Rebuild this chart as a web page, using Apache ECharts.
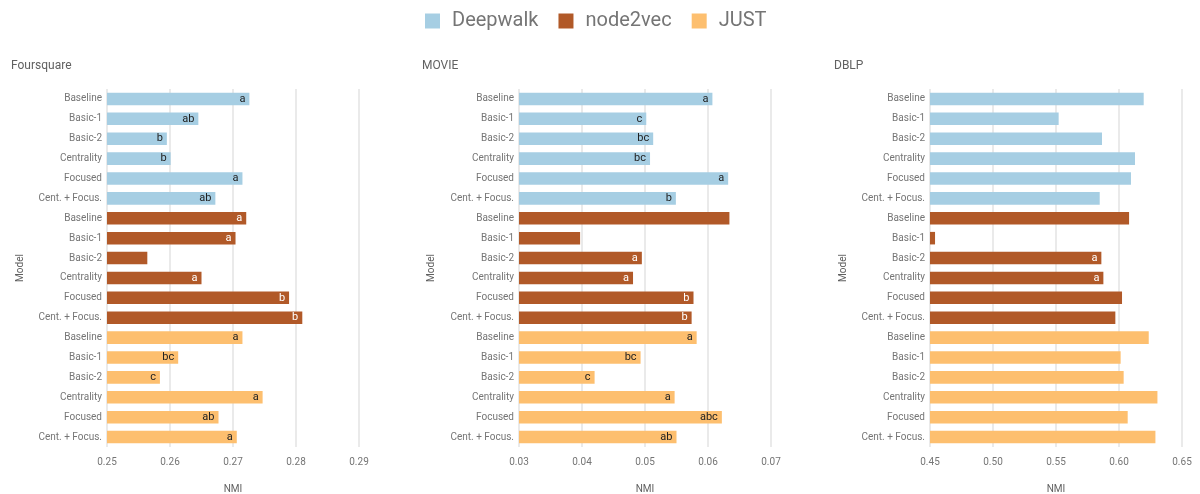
<!DOCTYPE html>
<html>
<head>
<meta charset="utf-8">
<script src="https://cdn.jsdelivr.net/npm/echarts@6/dist/echarts.min.js"></script>
<style>
  html, body { margin: 0; padding: 0; background: #fff; }
  #chart { width: 1200px; height: 494px; }
</style>
</head>
<body>
<div id="chart"></div>
<script>
// Model variants, repeated once per embedding method (top to bottom)
const models = ['Baseline', 'Basic-1', 'Basic-2', 'Centrality', 'Focused', 'Cent. + Focus.'];
const methods = ['Deepwalk', 'node2vec', 'JUST'];
const datasets = ['Foursquare', 'MOVIE', 'DBLP'];

// NMI per dataset and method
const foursquareDeepwalk = [0.2726, 0.2645, 0.2595, 0.2601, 0.2715, 0.2672];
const foursquareNode2vec = [0.2721, 0.2704, 0.2564, 0.2650, 0.2789, 0.2810];
const foursquareJust     = [0.2715, 0.2613, 0.2584, 0.2747, 0.2677, 0.2706];

const movieDeepwalk = [0.0607, 0.0502, 0.0513, 0.0508, 0.0632, 0.0549];
const movieNode2vec = [0.0634, 0.0397, 0.0495, 0.0481, 0.0577, 0.0574];
const movieJust     = [0.0582, 0.0493, 0.0420, 0.0547, 0.0622, 0.0550];

const dblpDeepwalk = [0.6196, 0.5521, 0.5865, 0.6127, 0.6095, 0.5847];
const dblpNode2vec = [0.6080, 0.4540, 0.5860, 0.5876, 0.6024, 0.5971];
const dblpJust     = [0.6236, 0.6013, 0.6037, 0.6305, 0.6069, 0.6289];

// Significance-group letters shown at the bar ends
const foursquareDeepwalkLetters = ['a', 'ab', 'b', 'b', 'a', 'ab'];
const foursquareNode2vecLetters = ['a', 'a', '', 'a', 'b', 'b'];
const foursquareJustLetters     = ['a', 'bc', 'c', 'a', 'ab', 'a'];

const movieDeepwalkLetters = ['a', 'c', 'bc', 'bc', 'a', 'b'];
const movieNode2vecLetters = ['', '', 'a', 'a', 'b', 'b'];
const movieJustLetters     = ['a', 'bc', 'c', 'a', 'abc', 'ab'];

const dblpDeepwalkLetters = ['', '', '', '', '', ''];
const dblpNode2vecLetters = ['', '', 'a', 'a', '', ''];
const dblpJustLetters     = ['', '', '', '', '', ''];

// Axis ranges per dataset
const xMins = [0.25, 0.03, 0.45];
const xMaxs = [0.29, 0.07, 0.65];
const xSteps = [0.01, 0.01, 0.05];

const panelValues = [
  [foursquareDeepwalk, foursquareNode2vec, foursquareJust],
  [movieDeepwalk, movieNode2vec, movieJust],
  [dblpDeepwalk, dblpNode2vec, dblpJust]
];
const panelLetters = [
  [foursquareDeepwalkLetters, foursquareNode2vecLetters, foursquareJustLetters],
  [movieDeepwalkLetters, movieNode2vecLetters, movieJustLetters],
  [dblpDeepwalkLetters, dblpNode2vecLetters, dblpJustLetters]
];

const colors = ['#a6cee3', '#b15928', '#fdbf6f'];
const labelColors = ['#222', '#fff', '#222'];
const categories = methods.flatMap(() => models);

const FONT = 'Roboto, "Noto Sans", sans-serif';
const gridLefts = [107, 519, 930];
const gridWidth = 252;
const titleLefts = [6, 417, 829];
const modelNameX = [18, 429, 841];

const grids = [], xAxes = [], yAxes = [], series = [], titles = [];

datasets.forEach((name, p) => {
  grids.push({
    left: gridLefts[p], width: gridWidth, top: 89, bottom: 47,
    outerBoundsMode: 'none'
  });
  titles.push({
    text: name, left: titleLefts[p], top: 55,
    textStyle: { fontFamily: FONT, fontSize: 12, fontWeight: 'normal', color: '#616161' }
  });
  xAxes.push({
    type: 'value', gridIndex: p,
    min: xMins[p], max: xMaxs[p], interval: xSteps[p],
    name: 'NMI', nameLocation: 'middle', nameGap: 37,
    nameTextStyle: { fontFamily: FONT, fontSize: 10, color: '#616161' },
    axisLine: { show: false }, axisTick: { show: false },
    axisLabel: {
      fontFamily: FONT, fontSize: 10, color: '#757575', margin: 10,
      formatter: v => v.toFixed(2)
    },
    splitLine: { show: true, lineStyle: { color: '#e3e3e3', width: 1.5 } }
  });
  yAxes.push({
    type: 'category', gridIndex: p, data: categories, inverse: true,
    name: 'Model', nameLocation: 'middle', nameRotate: 90,
    nameGap: gridLefts[p] - modelNameX[p] - 7,
    nameTextStyle: { fontFamily: FONT, fontSize: 10, color: '#616161' },
    axisLine: { show: false }, axisTick: { show: false },
    axisLabel: { fontFamily: FONT, fontSize: 10, color: '#757575', margin: 5 },
    splitLine: { show: false }
  });
  methods.forEach((m, k) => {
    // each method fills its own block of six rows; other rows stay empty
    const data = categories.map((c, i) =>
      Math.floor(i / 6) === k ? panelValues[p][k][i % 6] : '-');
    const letters = panelLetters[p][k];
    series.push({
      name: m, type: 'bar', xAxisIndex: p, yAxisIndex: p,
      data: data, barGap: '-100%', barCategoryGap: '37%',
      itemStyle: { color: colors[k] },
      label: {
        show: true, position: 'insideRight', distance: 4,
        fontFamily: FONT, fontSize: 11, color: labelColors[k],
        formatter: prm => letters[prm.dataIndex % 6] || ''
      },
      emphasis: { disabled: true }
    });
  });
});

const chart = echarts.init(document.getElementById('chart'), null, { renderer: 'canvas' });
chart.setOption({
  animation: false,
  backgroundColor: '#ffffff',
  title: titles,
  legend: {
    data: methods, top: 6, left: 420,
    icon: 'rect', itemWidth: 15, itemHeight: 15, itemGap: 20,
    textStyle: { fontFamily: FONT, fontSize: 20, color: '#757575', padding: [0, 0, 0, 7] }
  },
  grid: grids,
  xAxis: xAxes,
  yAxis: yAxes,
  series: series
});
</script>
</body>
</html>
